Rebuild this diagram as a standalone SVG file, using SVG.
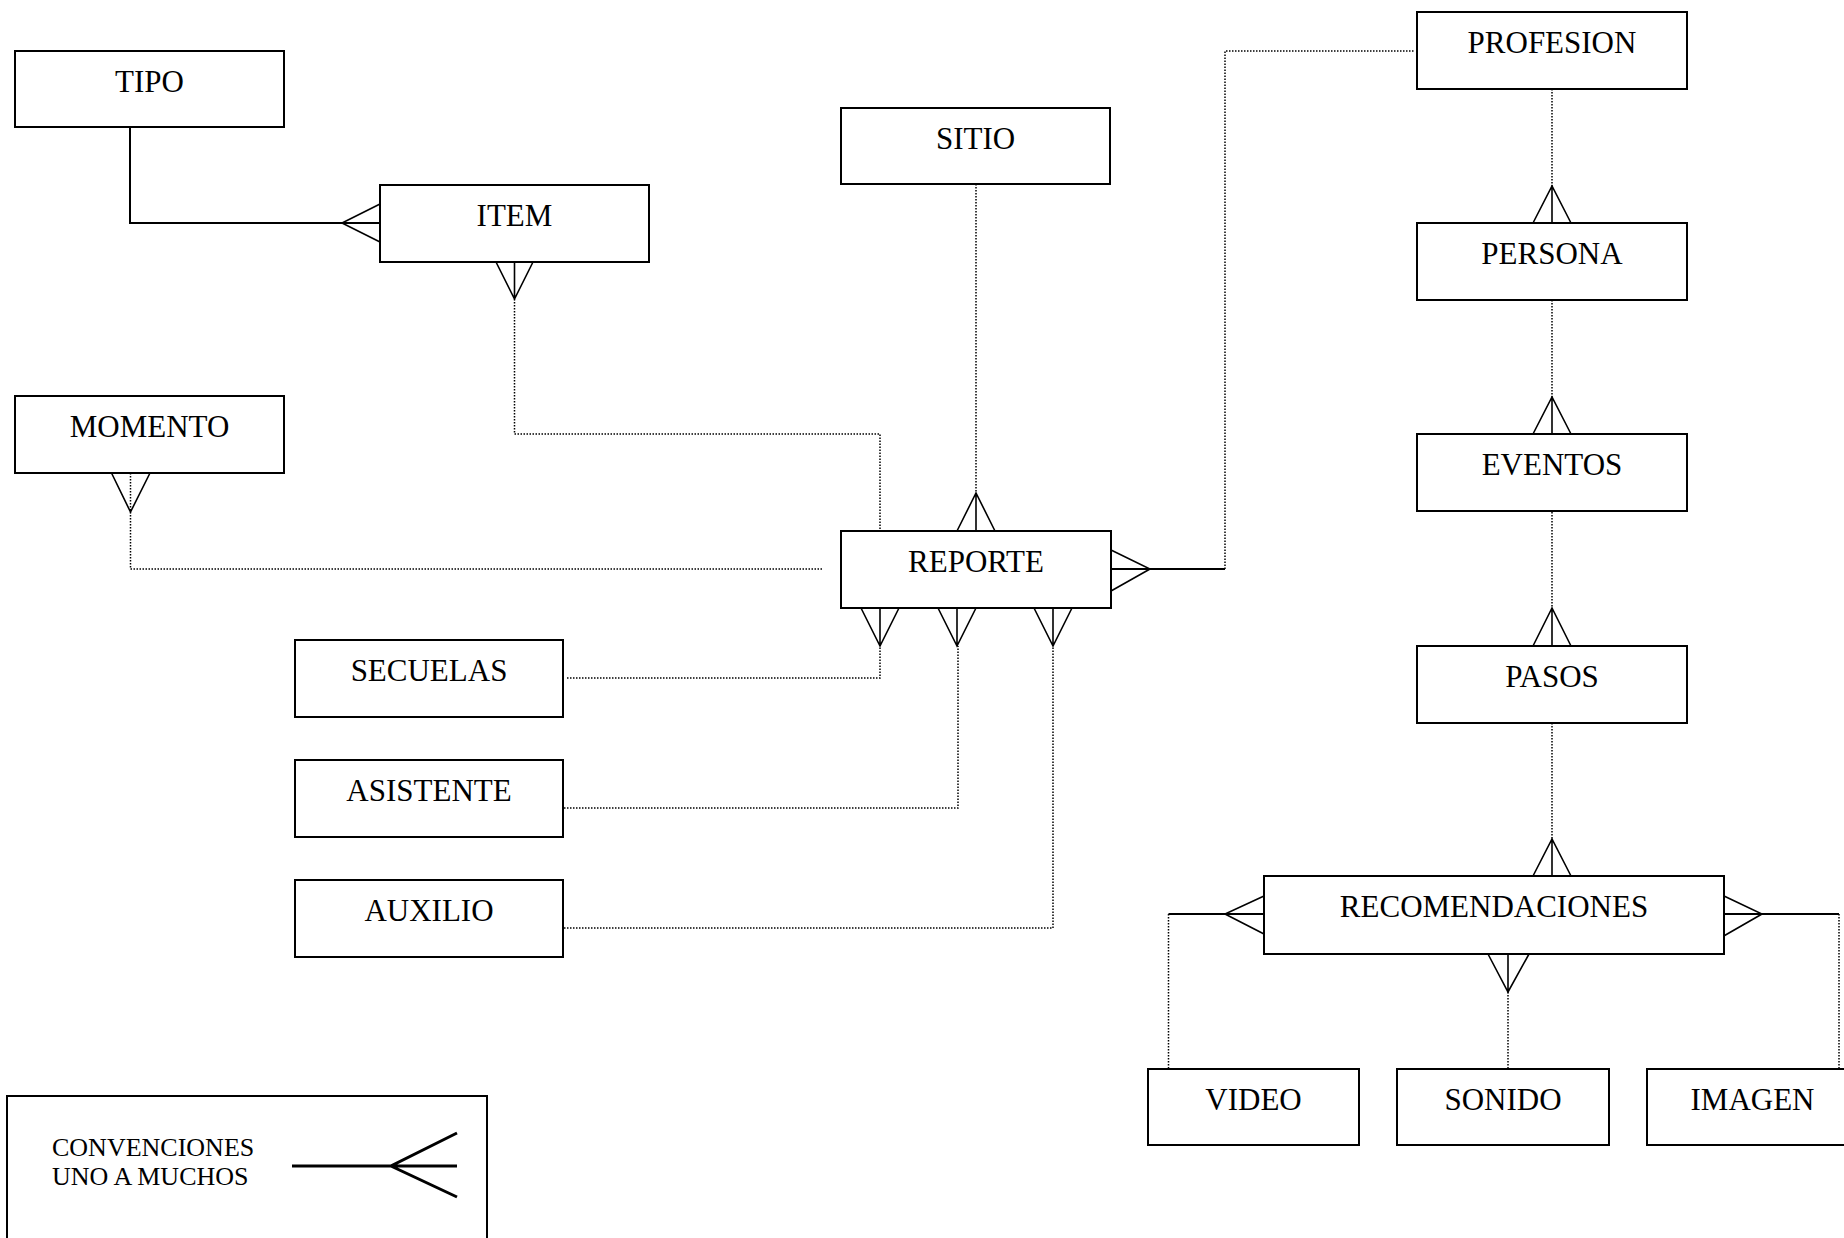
<svg xmlns="http://www.w3.org/2000/svg" width="1844" height="1238" viewBox="0 0 1844 1238">
<style>
.box{fill:#fff;stroke:#000;stroke-width:2}
.lbl{font-family:"Liberation Serif","Times New Roman",serif;font-size:31px;fill:#000;text-anchor:middle}
.leg{font-family:"Liberation Serif","Times New Roman",serif;font-size:26px;fill:#000}
.solid{fill:none;stroke:#000;stroke-width:2}
.dot{fill:none;stroke:#000;stroke-width:1.5;stroke-dasharray:1.5 1.5}
.crow{fill:none;stroke:#000;stroke-width:1.6}
</style>
<rect width="1844" height="1238" fill="#fff"/>
<g id="connectors">
  <!-- TIPO - ITEM -->
  <path class="solid" d="M130,127 V223 H380"/>
  <path class="crow" d="M380,204 L342,223 L380,242"/>
  <!-- ITEM - REPORTE -->
  <path class="crow" d="M496,262 L514.5,299 L533,262 M514.5,262 V299"/>
  <path class="dot" d="M514.5,299 V434 H880 V531"/>
  <!-- SITIO - REPORTE -->
  <path class="dot" d="M976,184 V493"/>
  <path class="crow" d="M957,531 L976,493 L995,531 M976,493 V531"/>
  <!-- MOMENTO - REPORTE -->
  <path class="crow" d="M111.5,473 L130.5,512 L150,473"/>
  <path class="dot" d="M130.5,473 V569 H822"/>
  <!-- REPORTE - PROFESION -->
  <path class="crow" d="M1111,550 L1150,569 L1111,591"/>
  <path class="solid" d="M1111,569 H1225"/>
  <path class="dot" d="M1225,569 V51 H1414"/>
  <!-- REPORTE - SECUELAS / ASISTENTE / AUXILIO -->
  <path class="crow" d="M861,608 L880,646 L899,608 M880,608 V646"/>
  <path class="dot" d="M567,678 H880 V646"/>
  <path class="crow" d="M938,608 L957,646 L976,608 M957,608 V646"/>
  <path class="dot" d="M558,808 H958 V646"/>
  <path class="crow" d="M1034,608 L1053,646 L1072,608 M1053,608 V646"/>
  <path class="dot" d="M558,928 H1053 V646"/>
  <!-- PROFESION - PERSONA -->
  <path class="dot" d="M1552,89 V186"/>
  <path class="crow" d="M1533,223 L1552,186 L1571,223 M1552,186 V223"/>
  <!-- PERSONA - EVENTOS -->
  <path class="dot" d="M1552,300 V397"/>
  <path class="crow" d="M1533,434 L1552,397 L1571,434 M1552,397 V434"/>
  <!-- EVENTOS - PASOS -->
  <path class="dot" d="M1552,512 V608"/>
  <path class="crow" d="M1533,646 L1552,608 L1571,646 M1552,608 V646"/>
  <!-- PASOS - RECOMENDACIONES -->
  <path class="dot" d="M1552,723 V839"/>
  <path class="crow" d="M1533,876 L1552,839 L1571,876 M1552,839 V876"/>
  <!-- RECOMENDACIONES - VIDEO -->
  <path class="crow" d="M1264,896 L1225,914 L1264,934"/>
  <path class="solid" d="M1264,914 H1168.5"/>
  <path class="dot" d="M1168.5,914 V1069"/>
  <!-- RECOMENDACIONES - SONIDO -->
  <path class="crow" d="M1488,954 L1508,992 L1529,954 M1508,950 V992"/>
  <path class="dot" d="M1508,992 V1069"/>
  <!-- RECOMENDACIONES - IMAGEN -->
  <path class="crow" d="M1724,896 L1762,914 L1722,937"/>
  <path class="solid" d="M1724,914 H1839"/>
  <path class="dot" d="M1839,914 V1069"/>
</g>
<g id="TIPO"><rect class="box" x="15" y="51" width="269" height="76"/><text class="lbl" x="149.5" y="92">TIPO</text></g>
<g id="ITEM"><rect class="box" x="380" y="185" width="269" height="77"/><text class="lbl" x="514.5" y="226">ITEM</text></g>
<g id="SITIO"><rect class="box" x="841" y="108" width="269" height="76"/><text class="lbl" x="975.5" y="149">SITIO</text></g>
<g id="MOMENTO"><rect class="box" x="15" y="396" width="269" height="77"/><text class="lbl" x="149.5" y="437">MOMENTO</text></g>
<g id="REPORTE"><rect class="box" x="841" y="531" width="270" height="77"/><text class="lbl" x="976" y="572">REPORTE</text></g>
<g id="SECUELAS"><rect class="box" x="295" y="640" width="268" height="77"/><text class="lbl" x="429" y="681">SECUELAS</text></g>
<g id="ASISTENTE"><rect class="box" x="295" y="760" width="268" height="77"/><text class="lbl" x="429" y="801">ASISTENTE</text></g>
<g id="AUXILIO"><rect class="box" x="295" y="880" width="268" height="77"/><text class="lbl" x="429" y="921">AUXILIO</text></g>
<g id="PROFESION"><rect class="box" x="1417" y="12" width="270" height="77"/><text class="lbl" x="1552" y="53">PROFESION</text></g>
<g id="PERSONA"><rect class="box" x="1417" y="223" width="270" height="77"/><text class="lbl" x="1552" y="264">PERSONA</text></g>
<g id="EVENTOS"><rect class="box" x="1417" y="434" width="270" height="77"/><text class="lbl" x="1552" y="475">EVENTOS</text></g>
<g id="PASOS"><rect class="box" x="1417" y="646" width="270" height="77"/><text class="lbl" x="1552" y="687">PASOS</text></g>
<g id="RECOMENDACIONES"><rect class="box" x="1264" y="876" width="460" height="78"/><text class="lbl" x="1494" y="917">RECOMENDACIONES</text></g>
<g id="VIDEO"><rect class="box" x="1148" y="1069" width="211" height="76"/><text class="lbl" x="1253.5" y="1110">VIDEO</text></g>
<g id="SONIDO"><rect class="box" x="1397" y="1069" width="212" height="76"/><text class="lbl" x="1503" y="1110">SONIDO</text></g>
<g id="IMAGEN"><rect class="box" x="1647" y="1069" width="211" height="76"/><text class="lbl" x="1752.5" y="1110">IMAGEN</text></g>
<g id="CONVENCIONES">
  <rect class="box" x="7" y="1096" width="480" height="200"/>
  <text class="leg" x="52" y="1156">CONVENCIONES</text>
  <text class="leg" x="52" y="1185">UNO A MUCHOS</text>
  <path fill="none" stroke="#000" stroke-width="3" d="M292,1166 H457 M457,1133 L391,1166 L457,1197"/>
</g>
</svg>
